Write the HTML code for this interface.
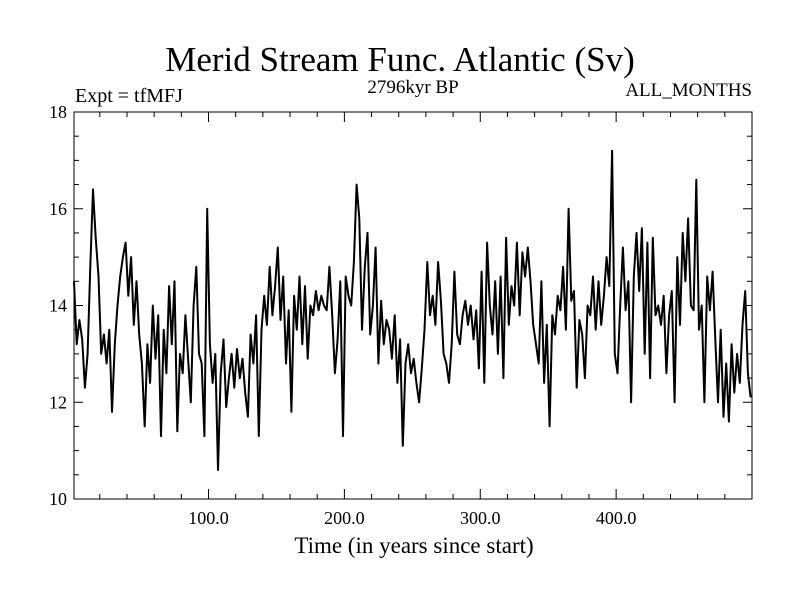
<!DOCTYPE html>
<html><head><meta charset="utf-8"><style>
body{margin:0;background:#fff}
svg text{font-family:"Liberation Serif",serif;fill:#000}
</style></head><body>
<svg width="800" height="600" viewBox="0 0 800 600" xmlns="http://www.w3.org/2000/svg">
<rect width="800" height="600" fill="#fff"/>
<text x="400" y="71" font-size="35" text-anchor="middle">Merid Stream Func. Atlantic (Sv)</text>
<text x="75" y="102" font-size="20">Expt = tfMFJ</text>
<text x="413" y="93" font-size="19" text-anchor="middle">2796kyr BP</text>
<text x="752" y="96" font-size="19" text-anchor="end">ALL_MONTHS</text>
<text x="414" y="553" font-size="23" text-anchor="middle">Time (in years since start)</text>
<g id="axes"></g>
<path id="series" fill="none" stroke="#000" stroke-width="2" stroke-linejoin="round"/>
<rect x="74" y="112" width="678" height="387" fill="none" stroke="#000" stroke-width="1"/>
</svg>
<script>
const yTicks=[10,12,14,16,18];
const xTicks=[100,200,300,400];
const xTickLabels=["100.0","200.0","300.0","400.0"];
const startYear=1;
const stepYears=2;
const values=[
14.5,13.2,13.7,13.3,12.3,13.0,14.8,16.4,15.4,14.6,
13.0,13.4,12.8,13.5,11.8,13.2,14.0,14.6,15.0,15.3,
14.2,15.0,13.6,14.5,13.4,12.8,11.5,13.2,12.4,14.0,
12.9,13.8,11.3,13.5,12.6,14.4,13.2,14.5,11.4,13.0,
12.6,13.8,12.9,12.0,14.0,14.8,13.0,12.8,11.3,16.0,
13.2,12.4,13.0,10.6,12.6,13.3,11.9,12.5,13.0,12.3,
13.1,12.5,12.9,12.2,11.7,13.4,12.8,13.8,11.3,13.5,
14.2,13.6,14.8,13.8,14.4,15.2,13.7,14.6,12.8,13.9,
11.8,14.2,13.5,14.6,13.2,14.4,12.9,14.0,13.8,14.3,
13.9,14.2,14.0,13.9,14.8,13.8,12.6,13.3,14.5,11.3,
14.6,14.2,14.0,14.9,16.5,15.8,13.5,14.8,15.5,13.4,
14.0,15.2,12.8,14.1,13.2,13.7,13.5,12.9,13.8,12.4,
13.3,11.1,12.8,13.2,12.6,12.9,12.4,12.0,12.7,13.5,
14.9,13.8,14.2,13.6,14.9,14.1,13.0,12.8,12.4,13.2,
14.7,13.4,13.2,13.8,14.1,13.6,14.0,13.3,13.9,12.7,
14.7,12.4,15.3,14.0,13.4,14.5,13.0,14.6,12.5,15.4,
13.6,14.4,14.0,15.3,13.8,15.1,14.6,15.2,14.5,13.6,
13.2,12.8,14.5,12.4,13.6,11.5,13.8,13.4,14.2,13.9,
14.8,13.5,16.0,14.1,14.3,12.3,13.7,13.4,12.5,14.0,
13.8,14.6,13.5,14.5,13.6,14.2,15.0,14.4,17.2,13.0,
12.6,14.0,15.2,13.9,14.5,12.0,14.6,15.5,14.3,15.6,
13.0,15.3,12.5,15.4,13.8,14.0,13.6,14.2,12.6,13.8,
14.3,12.0,15.0,13.6,15.5,14.5,15.8,14.0,13.9,16.6,
13.5,14.0,12.0,14.6,13.9,14.7,13.3,12.0,13.5,11.7,
12.8,11.6,13.2,12.2,13.0,12.4,13.6,14.3,12.6,12.1];
const X0=74,X1=752,Y0=499,Y1=112,XMIN=1,XMAX=500,YMIN=10,YMAX=18;
function xs(v){return X0+(v-XMIN)*(X1-X0)/(XMAX-XMIN);}
function ys(v){return Y0-(v-YMIN)*(Y0-Y1)/(YMAX-YMIN);}
const NS="http://www.w3.org/2000/svg";
const ax=document.getElementById('axes');
function line(x1,y1,x2,y2,name){const l=document.createElementNS(NS,'line');
l.setAttribute('x1',x1);l.setAttribute('y1',y1);l.setAttribute('x2',x2);l.setAttribute('y2',y2);
l.setAttribute('stroke','#000');l.setAttribute('stroke-width','1');


ax.appendChild(l);}
function text(x,y,s,anchor,name){const t=document.createElementNS(NS,'text');
t.setAttribute('x',x);t.setAttribute('y',y);t.setAttribute('font-size','18');t.setAttribute('text-anchor',anchor);t.textContent=s;


ax.appendChild(t);}
for(let v=YMIN;v<=YMAX+1e-9;v+=0.5){const y=ys(v);const major=Math.abs(v-Math.round(v/2)*2)<1e-9;const L=major?9:5;
line(X0,y,X0+L,y,'y-tick');line(X1-L,y,X1,y,'y-tick-right');}
yTicks.forEach(v=>text(67,ys(v)+6,String(v),'end','y-tick-label'));
for(let v=20;v<XMAX;v+=20){const x=xs(v);const L=(v%100===0)?10:5;
line(x,Y0-L,x,Y0,'x-tick');line(x,Y1,x,Y1+L,'x-tick-top');}
xTicks.forEach((v,i)=>text(xs(v),524,xTickLabels[i],'middle','x-tick-label'));
let d='';values.forEach((v,i)=>{const yr=startYear+i*stepYears;d+=(i?'L':'M')+xs(yr).toFixed(1)+','+ys(v).toFixed(1);});
document.getElementById('series').setAttribute('d',d);
</script>
</body></html>
